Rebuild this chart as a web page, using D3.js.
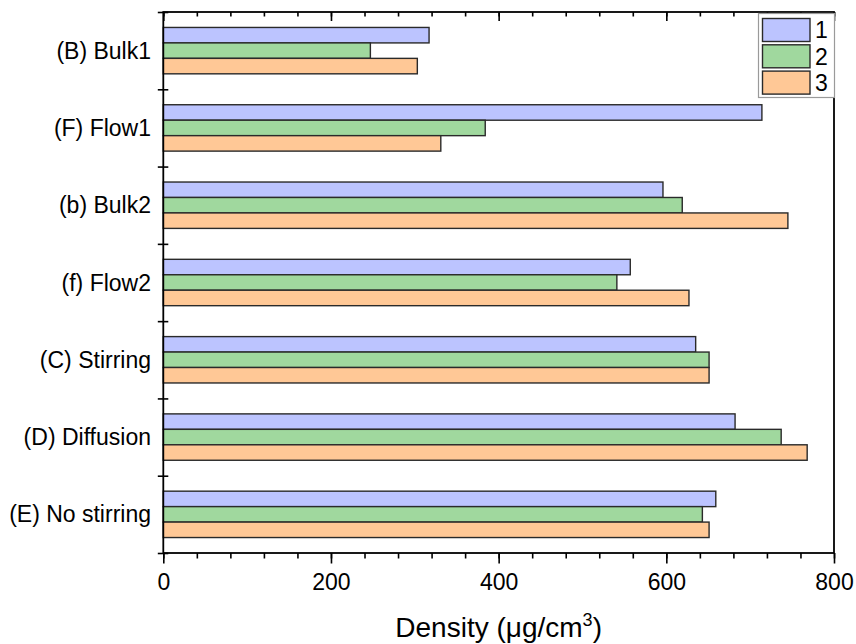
<!DOCTYPE html>
<html>
<head>
<meta charset="utf-8">
<script src="https://cdn.jsdelivr.net/npm/d3@7"></script>
<style>
  body { margin: 0; background: #fff; }
  svg { font-family: "Liberation Sans", Arial, sans-serif; }
</style>
</head>
<body>
<div id="chart"></div>
<script>
// categories top to bottom
const categories = ["(B) Bulk1", "(F) Flow1", "(b) Bulk2", "(f) Flow2", "(C) Stirring", "(D) Diffusion", "(E) No stirring"];
const seriesNames = ["1", "2", "3"];
const series1 = [317, 714, 596, 557, 635, 682, 659];
const series2 = [247, 384, 619, 541, 651, 737, 643];
const series3 = [303, 331, 745, 627, 651, 768, 651];
const majorTicks = [0, 200, 400, 600, 800];
const colors = ["#bcc4ff", "#a0d89e", "#ffc896"];

const width = 856, height = 644;
const plotL = 163.3, plotR = 834, plotT = 12, plotB = 553;

const svg = d3.select("#chart").append("svg")
    .attr("width", width)
    .attr("height", height);

const x = d3.scaleLinear().domain([0, 800]).range([plotL, plotR]);

const y = d3.scaleBand()
    .domain(categories)
    .range([plotT, plotB])
    .paddingInner(0.4)
    .paddingOuter(0.2);

const ySub = d3.scaleBand()
    .domain(seriesNames)
    .range([0, y.bandwidth()]);

// rows for drawing
const rows = categories.map((c, i) => ({
    cat: c,
    vals: [series1[i], series2[i], series3[i]]
}));

// bars
const groups = svg.append("g").selectAll("g")
    .data(rows)
    .join("g")
    .attr("transform", d => `translate(0,${y(d.cat)})`);

groups.selectAll("rect")
    .data(d => d.vals.map((v, k) => ({ name: seriesNames[k], v, k })))
    .join("rect")
    .attr("x", x(0))
    .attr("y", d => ySub(d.name))
    .attr("width", d => x(d.v) - x(0))
    .attr("height", ySub.bandwidth())
    .attr("fill", d => colors[d.k])
    .attr("stroke", "#2a2a2a")
    .attr("stroke-width", 1.4);

// bottom axis: major + minor ticks, outward
const minorTicks = d3.range(0, 801, 40);
svg.append("g")
    .attr("transform", `translate(0,${plotB})`)
    .call(d3.axisBottom(x).tickValues(minorTicks).tickSize(5.5).tickFormat(""))
    .call(g => g.select(".domain").remove())
    .call(g => g.selectAll("line").attr("stroke-width", 1.6));

svg.append("g")
    .attr("transform", `translate(0,${plotB})`)
    .call(d3.axisBottom(x).tickValues(majorTicks).tickSize(10.5).tickPadding(10).tickFormat(d3.format("d")))
    .call(g => g.select(".domain").remove())
    .call(g => g.selectAll("line").attr("stroke-width", 1.6))
    .call(g => g.selectAll("text")
        .attr("fill", "#000")
        .style("font-size", "23px")
        .style("font-family", "'Liberation Sans', Arial, sans-serif"));

// top axis: ticks pointing inward
svg.append("g")
    .attr("transform", `translate(0,${plotT})`)
    .call(d3.axisTop(x).tickValues(minorTicks).tickSize(-4.5).tickFormat(""))
    .call(g => g.select(".domain").remove())
    .call(g => g.selectAll("line").attr("stroke-width", 1.6));

svg.append("g")
    .attr("transform", `translate(0,${plotT})`)
    .call(d3.axisTop(x).tickValues(majorTicks).tickSize(-9).tickFormat(""))
    .call(g => g.select(".domain").remove())
    .call(g => g.selectAll("line").attr("stroke-width", 1.6));

// left axis: ticks at category boundaries, crossing the axis
const yEdge = d3.scaleLinear().domain([0, categories.length]).range([plotT, plotB]);
svg.append("g")
    .attr("transform", `translate(${plotL},0)`)
    .call(d3.axisLeft(yEdge).tickValues(d3.range(0, categories.length + 1)).tickSize(5.5).tickFormat(""))
    .call(g => g.select(".domain").remove())
    .call(g => g.selectAll("line").attr("x2", -5.5).attr("x1", 5).attr("stroke-width", 1.6));

// category labels
svg.append("g").selectAll("text")
    .data(categories)
    .join("text")
    .attr("x", 151)
    .attr("y", d => y(d) + y.bandwidth() / 2)
    .attr("dy", "0.35em")
    .attr("text-anchor", "end")
    .style("font-size", "23px")
    .attr("fill", "#000")
    .text(d => d);

// frame
svg.append("rect")
    .attr("x", plotL)
    .attr("y", plotT)
    .attr("width", plotR - plotL)
    .attr("height", plotB - plotT)
    .attr("fill", "none")
    .attr("stroke", "#000")
    .attr("stroke-width", 1.8);

// axis title
const title = svg.append("text")
    .attr("x", (plotL + plotR) / 2)
    .attr("y", 637)
    .attr("text-anchor", "middle")
    .style("font-size", "28px")
    .attr("fill", "#000");
title.append("tspan").text("Density (μg/cm");
title.append("tspan").attr("dy", -11).style("font-size", "18px").text("3");
title.append("tspan").attr("dy", 11).text(")");

// legend
const legend = svg.append("g");
legend.append("rect")
    .attr("x", 758.5)
    .attr("y", 13.5)
    .attr("width", 76)
    .attr("height", 84)
    .attr("fill", "#fff")
    .attr("stroke", "#9a9a9a")
    .attr("stroke-width", 1.2);

const item = legend.selectAll("g.item")
    .data(seriesNames)
    .join("g")
    .attr("class", "item")
    .attr("transform", (d, i) => `translate(762.5,${18.5 + i * 26.3})`);

item.append("rect")
    .attr("width", 47.5)
    .attr("height", 23)
    .attr("fill", (d, i) => colors[i])
    .attr("stroke", "#2a2a2a")
    .attr("stroke-width", 1.4);

item.append("text")
    .attr("x", 59)
    .attr("y", 11.5)
    .attr("dy", "0.36em")
    .attr("text-anchor", "middle")
    .style("font-size", "23px")
    .attr("fill", "#000")
    .text(d => d);
</script>
</body>
</html>
